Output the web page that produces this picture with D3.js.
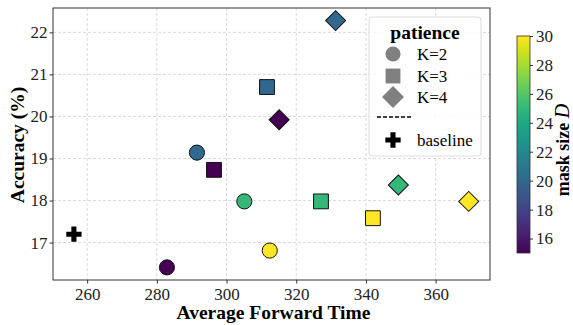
<!DOCTYPE html>
<html>
<head>
<meta charset="utf-8">
<script src="https://cdn.jsdelivr.net/npm/d3@7"></script>
<style>
  body { margin: 0; background: #fff; }
  svg { display: block; }
</style>
</head>
<body>
<div id="chart"></div>
<script>
// forward time / accuracy per run, K = patience, D = mask size
const times = [282.9, 291.5, 305.1, 312.4, 296.4, 311.6, 327.1, 342.0, 315.1, 331.3, 349.3, 369.5];
const accs = [16.41, 19.14, 17.98, 16.81, 18.73, 20.70, 17.98, 17.58, 19.92, 22.28, 18.37, 17.98];
const patience = [2, 2, 2, 2, 3, 3, 3, 3, 4, 4, 4, 4];
const maskSize = [15, 20, 25, 30, 15, 20, 25, 30, 15, 20, 25, 30];
const baseline = [256.2, 17.2];
const xTicks = [260, 280, 300, 320, 340, 360];
const yTicks = [17, 18, 19, 20, 21, 22];
const cbTicks = [16, 18, 20, 22, 24, 26, 28, 30];

const W = 573, H = 325;
const margin = { top: 8, right: 83, bottom: 45, left: 53 };
const width = W - margin.left - margin.right;
const height = H - margin.top - margin.bottom;
const font = "'Liberation Serif', 'Times New Roman', serif";
const tickFs = 17, titleFs = 19.5;

const svg = d3.select("#chart").append("svg")
    .attr("width", W).attr("height", H)
    .style("font-family", font);

const g = svg.append("g").attr("transform", `translate(${margin.left},${margin.top})`);

const x = d3.scaleLinear().domain([250.2, 375.6]).range([0, width]);
const y = d3.scaleLinear().domain([16.11, 22.58]).range([height, 0]);
const color = d3.scaleSequential(d3.interpolateViridis).domain([15, 30]);

// grid
g.append("g").selectAll("line").data(xTicks).join("line")
    .attr("x1", d => x(d)).attr("x2", d => x(d)).attr("y1", 0).attr("y2", height)
    .attr("stroke", "#d0d0d0").attr("stroke-width", 0.8).attr("stroke-dasharray", "3,2");
g.append("g").selectAll("line").data(yTicks).join("line")
    .attr("y1", d => y(d)).attr("y2", d => y(d)).attr("x1", 0).attr("x2", width)
    .attr("stroke", "#d0d0d0").attr("stroke-width", 0.8).attr("stroke-dasharray", "3,2");

// axes
const xAxis = g.append("g").attr("transform", `translate(0,${height})`)
    .call(d3.axisBottom(x).tickValues(xTicks).tickFormat(d3.format("d")).tickSize(3.5).tickPadding(4));
const yAxis = g.append("g")
    .call(d3.axisLeft(y).tickValues(yTicks).tickFormat(d3.format("d")).tickSize(3.5).tickPadding(2));
[xAxis, yAxis].forEach(a => {
    a.select(".domain").remove();
    a.selectAll("text").attr("font-size", tickFs).attr("font-family", font).attr("fill", "#222");
    a.selectAll("line").attr("stroke", "#333");
});

g.append("rect").attr("width", width).attr("height", height)
    .attr("fill", "none").attr("stroke", "#333").attr("stroke-width", 1);

// markers (diamond = square turned 45deg)
const shapeFor = k => k === 2 ? d3.symbolCircle : d3.symbolSquare;
const sizeFor = k => k === 2 ? 180 : k === 3 ? 220 : 200;
const rot = k => k === 4 ? " rotate(45)" : "";

const data = times.map((t, i) => ({ t, a: accs[i], k: patience[i], d: maskSize[i] }));
g.append("g").selectAll("path").data(data).join("path")
    .attr("transform", d => `translate(${x(d.t)},${y(d.a)})` + rot(d.k))
    .attr("d", d => d3.symbol(shapeFor(d.k), sizeFor(d.k))())
    .attr("fill", d => color(d.d))
    .attr("stroke", "#111").attr("stroke-width", 1);

g.append("path")
    .attr("transform", `translate(${x(baseline[0])},${y(baseline[1])})`)
    .attr("d", d3.symbol(d3.symbolCross, 130)())
    .attr("fill", "#000");

// legend
const lg = svg.append("g").attr("transform", "translate(369,17)");
lg.append("rect").attr("width", 112).attr("height", 139).attr("rx", 3)
    .attr("fill", "#fff").attr("fill-opacity", 0.85)
    .attr("stroke", "#ddd").attr("stroke-width", 1);
lg.append("text").attr("x", 56).attr("y", 21.5).attr("text-anchor", "middle")
    .attr("font-size", titleFs).attr("font-weight", "bold").text("patience");
const legItems = [
    { k: 2, label: "K=2", cy: 37 },
    { k: 3, label: "K=3", cy: 59 },
    { k: 4, label: "K=4", cy: 80 }
];
legItems.forEach(it => {
    lg.append("path")
        .attr("transform", `translate(24,${it.cy})` + rot(it.k))
        .attr("d", d3.symbol(shapeFor(it.k), it.k === 4 ? 240 : sizeFor(it.k))())
        .attr("fill", "#808080");
    lg.append("text").attr("x", 48).attr("y", it.cy + 6)
        .attr("font-size", tickFs).text(it.label);
});
lg.append("line").attr("x1", 8).attr("x2", 43).attr("y1", 100).attr("y2", 100)
    .attr("stroke", "#000").attr("stroke-width", 1.3).attr("stroke-dasharray", "4,2");
lg.append("path").attr("transform", "translate(24,123)")
    .attr("d", d3.symbol(d3.symbolCross, 130)()).attr("fill", "#000");
lg.append("text").attr("x", 48).attr("y", 129).attr("font-size", tickFs).text("baseline");

// axis titles
svg.append("text").attr("x", margin.left + width / 2 + 2).attr("y", 319)
    .attr("text-anchor", "middle").attr("font-size", titleFs).attr("font-weight", "bold")
    .text("Average Forward Time");
svg.append("text").attr("transform", `translate(24,${margin.top + height / 2 + 1}) rotate(-90)`)
    .attr("text-anchor", "middle").attr("font-size", titleFs).attr("font-weight", "bold")
    .text("Accuracy (%)");

// colorbar
const cbX = 517, cbW = 13, cbTop = 36, cbBot = 253;
const cy = d3.scaleLinear().domain([15, 30]).range([cbBot, cbTop]);
const defs = svg.append("defs");
const grad = defs.append("linearGradient").attr("id", "vir")
    .attr("x1", 0).attr("y1", 1).attr("x2", 0).attr("y2", 0);
d3.range(0, 1.0001, 0.05).forEach(s => {
    grad.append("stop").attr("offset", s).attr("stop-color", d3.interpolateViridis(s));
});
svg.append("rect").attr("x", cbX).attr("y", cbTop).attr("width", cbW).attr("height", cbBot - cbTop)
    .attr("fill", "url(#vir)");
const cbAxis = svg.append("g").attr("transform", `translate(${cbX + cbW},0)`)
    .call(d3.axisRight(cy).tickValues(cbTicks).tickSize(3).tickPadding(3));
cbAxis.select(".domain").remove();
cbAxis.selectAll("text").attr("font-size", tickFs).attr("font-family", font).attr("fill", "#222");
cbAxis.selectAll("line").attr("stroke", "#333");
svg.append("rect").attr("x", cbX).attr("y", cbTop).attr("width", cbW).attr("height", cbBot - cbTop)
    .attr("fill", "none").attr("stroke", "#333").attr("stroke-width", 0.8);

const cbLabel = svg.append("text")
    .attr("transform", `translate(569,150) rotate(-90)`)
    .attr("text-anchor", "middle").attr("font-size", 18).attr("font-weight", "bold");
cbLabel.append("tspan").text("mask size ");
cbLabel.append("tspan").attr("font-style", "italic").attr("font-weight", "normal").attr("font-size", 20).text("D");
</script>
</body>
</html>
